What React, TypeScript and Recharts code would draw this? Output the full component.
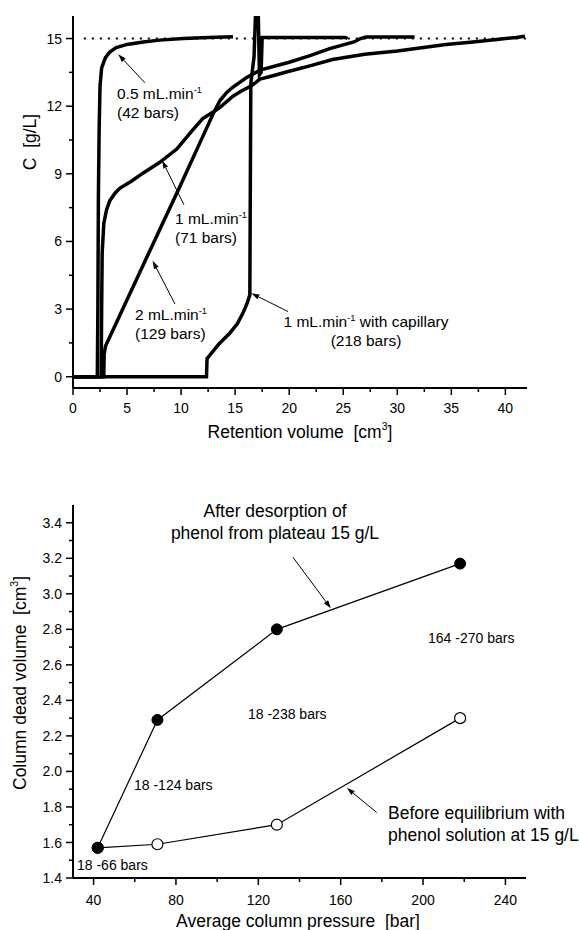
import React from "react";
import { LineChart, Line, XAxis, YAxis, ReferenceLine } from "recharts";

const FONT = '"Liberation Sans", Arial, Helvetica, sans-serif';

// ---- top panel: breakthrough curves, [retention volume, C]
const flow05 = [
  [0, 0], [2.25, 0], [2.3, 3], [2.35, 8], [2.42, 11], [2.5, 12.9], [2.65, 13.7], [3.0, 14.15],
  [3.4, 14.4], [4.0, 14.6], [5.0, 14.74], [6.5, 14.85], [8, 14.93], [10.2, 15.0], [12.5, 15.05], [14.8, 15.08],
];
const flow1 = [
  [0, 0], [2.6, 0], [2.65, 3], [2.7, 5.5], [2.85, 6.8], [3.1, 7.4], [3.4, 7.8], [3.9, 8.15], [4.35, 8.37],
  [5.4, 8.67], [6.5, 9.04], [8, 9.5], [9.6, 10.1], [11, 10.9], [12, 11.45], [13, 11.75], [13.6, 11.95],
  [14.8, 12.44], [15.5, 12.65], [16.5, 12.9], [17.3, 13.2], [18.5, 13.35], [20, 13.55], [22, 13.8],
  [24, 14.07], [27, 14.3], [30, 14.45], [34.5, 14.74], [37, 14.85], [39.2, 14.96], [41, 15.05], [41.8, 15.1],
];
const flow2 = [
  [0, 0], [2.85, 0], [2.88, 1.0], [3.0, 1.35], [6, 4.45], [9.9, 8.45], [12, 10.65], [13, 11.7],
  [13.6, 12.25], [14.2, 12.6], [14.8, 12.85], [16, 13.25], [17.3, 13.6], [20, 13.95], [22, 14.25],
  [23.75, 14.55], [25, 14.72], [26, 14.85], [26.6, 15.0], [27.1, 15.07], [31.6, 15.07],
];
const flow1Capillary = [
  [0, 0], [12.35, 0], [12.4, 0.8], [12.8, 1.04], [13.5, 1.45], [14.5, 1.93], [15.2, 2.35], [15.7, 2.8],
  [16.1, 3.25], [16.36, 3.63], [16.4, 8], [16.45, 13.0], [16.75, 14.2], [16.95, 17], [17.1, 17],
  [17.25, 13.4], [17.4, 13.5], [17.5, 15.05], [20, 15.05], [25.2, 15.05], [25.4, 15.0],
];
const plateau = [[1, 15], [42, 15]];
const cTicks = [0, 1.5, 3, 4.5, 6, 7.5, 9, 10.5, 12, 13.5, 15];
const volumeTicks = [0, 2.5, 5, 7.5, 10, 12.5, 15, 17.5, 20, 22.5, 25, 27.5, 30, 32.5, 35, 37.5, 40];
const topArrows = [
  [[6.65, 13.04], [4.19, 14.3]],
  [[10.26, 7.63], [8.25, 9.59]],
  [[9.43, 3.23], [7.37, 5.14]],
  [[19.9, 2.89], [16.5, 3.7]],
];

// ---- bottom panel: dead volume vs pressure
const pressure = [42, 71, 129, 218];
const afterDesorption = [1.57, 2.29, 2.8, 3.17];
const beforeEquilibrium = [1.57, 1.59, 1.7, 2.3];
const deadVolumeTicks = [1.4, 1.5, 1.6, 1.7, 1.8, 1.9, 2.0, 2.1, 2.2, 2.3, 2.4, 2.5, 2.6, 2.7, 2.8, 2.9, 3.0, 3.1, 3.2, 3.3, 3.4];
const pressureTicks = [40, 60, 80, 100, 120, 140, 160, 180, 200, 220, 240];
const bottomArrows = [
  [[136.8, 3.206], [155.2, 2.919]],
  [[177.5, 1.769], [163, 1.907]],
];

const toPts = (arr: number[][]) => arr.map(([x, y]) => ({ x, y }));
const onStep = (v: number, step: number) => Math.abs(v / step - Math.round(v / step)) < 1e-6;

// tick coordinates arrive at the axis line itself (tickSize 0, tickMargin 0)
const YTick = (props: any) => {
  const { x, y, payload, step, dec } = props;
  const major = onStep(payload.value, step);
  return (
    <g>
      <line x1={x} x2={x - (major ? 7 : 4)} y1={y} y2={y} stroke="#000" strokeWidth={1.5} />
      {major && (
        <text x={x - 11} y={y} dy="0.36em" textAnchor="end" fontSize={14} fontFamily={FONT} fill="#000">
          {payload.value.toFixed(dec)}
        </text>
      )}
    </g>
  );
};

const XTick = (props: any) => {
  const { x, y, payload, step, off } = props;
  const major = onStep(payload.value, step);
  return (
    <g>
      <line x1={x} x2={x} y1={y} y2={y + (major ? 7 : 4)} stroke="#000" strokeWidth={1.5} />
      {major && (
        <text x={x} y={y + off} textAnchor="middle" fontSize={14} fontFamily={FONT} fill="#000">
          {payload.value}
        </text>
      )}
    </g>
  );
};

const Arrow = (p: any) => {
  const { x1, y1, x2, y2 } = p;
  const a = Math.atan2(y2 - y1, x2 - x1);
  const L = 8;
  const W = 2.6;
  const bx = x2 - L * Math.cos(a);
  const by = y2 - L * Math.sin(a);
  const head = `${x2},${y2} ${bx - W * Math.sin(a)},${by + W * Math.cos(a)} ${bx + W * Math.sin(a)},${by - W * Math.cos(a)}`;
  return (
    <g>
      <line x1={x1} y1={y1} x2={bx} y2={by} stroke="#000" strokeWidth={1} />
      <polygon points={head} fill="#000" />
    </g>
  );
};

const Txt = ({ left, top, size, children, align, width }: any) => (
  <div
    style={{
      position: "absolute", left, top, width, fontSize: size, lineHeight: `${Math.round(size * 1.25)}px`,
      whiteSpace: "pre", textAlign: align || "left", color: "#000",
    }}
  >
    {children}
  </div>
);

const Title = ({ cx, cy, rotate, children }: any) => (
  <div
    style={{
      position: "absolute", left: cx, top: cy, fontSize: 17.5, whiteSpace: "pre", color: "#000",
      transform: `translate(-50%, -50%)${rotate ? " rotate(-90deg)" : ""}`,
    }}
  >
    {children}
  </div>
);

const sup = (s: string) => <sup style={{ fontSize: "0.6em", verticalAlign: "0.7em", lineHeight: 0 }}>{s}</sup>;

const curve = { type: "linear" as const, dataKey: "y", stroke: "#000", strokeWidth: 3.5, dot: false, activeDot: false, isAnimationActive: false };

export default function App() {
  return (
    <div style={{ position: "absolute", left: 0, top: 0, width: 579, height: 930, fontFamily: FONT, background: "#fff" }}>
      <div style={{ position: "absolute", left: 0, top: 0 }}>
        <LineChart width={579} height={450} margin={{ top: 16, right: 52, bottom: 32, left: 33 }}>
          <XAxis
            type="number" dataKey="x" domain={[0, 42]} allowDataOverflow height={30}
            ticks={volumeTicks} interval={0} tickSize={0} tickMargin={0}
            axisLine={{ stroke: "#000", strokeWidth: 2 }} tickLine={false}
            tick={(p: any) => <XTick {...p} step={5} off={25} />}
          />
          <YAxis
            type="number" domain={[-0.5, 16]} allowDataOverflow width={40}
            ticks={cTicks} interval={0} tickSize={0} tickMargin={0}
            axisLine={{ stroke: "#000", strokeWidth: 2 }} tickLine={false}
            tick={(p: any) => <YTick {...p} step={3} dec={0} />}
          />
          <Line data={toPts(plateau)} type="linear" dataKey="y" stroke="#000" strokeWidth={2} strokeDasharray="2 6" dot={false} activeDot={false} isAnimationActive={false} />
          <Line data={toPts(flow05)} {...curve} />
          <Line data={toPts(flow1)} {...curve} />
          <Line data={toPts(flow2)} {...curve} />
          <Line data={toPts(flow1Capillary)} {...curve} />
          {topArrows.map(([f, t], i) => (
            <ReferenceLine key={i} segment={[{ x: f[0], y: f[1] }, { x: t[0], y: t[1] }]} shape={Arrow} ifOverflow="visible" />
          ))}
        </LineChart>
      </div>

      <div style={{ position: "absolute", left: 0, top: 460 }}>
        <LineChart width={579} height={470} margin={{ top: 45, right: 53, bottom: 22, left: 33 }}>
          <XAxis
            type="number" dataKey="x" domain={[30, 250]} allowDataOverflow height={30}
            ticks={pressureTicks} interval={0} tickSize={0} tickMargin={0}
            axisLine={{ stroke: "#000", strokeWidth: 2 }} tickLine={false}
            tick={(p: any) => <XTick {...p} step={40} off={27} />}
          />
          <YAxis
            type="number" domain={[1.4, 3.5]} allowDataOverflow width={40}
            ticks={deadVolumeTicks} interval={0} tickSize={0} tickMargin={0}
            axisLine={{ stroke: "#000", strokeWidth: 2 }} tickLine={false}
            tick={(p: any) => <YTick {...p} step={0.2} dec={1} />}
          />
          <Line
            data={pressure.map((x, i) => ({ x, y: beforeEquilibrium[i] }))}
            type="linear" dataKey="y" stroke="#000" strokeWidth={1.2}
            dot={{ r: 5.5, fill: "#fff", stroke: "#000", strokeWidth: 1.2 }} activeDot={false} isAnimationActive={false}
          />
          <Line
            data={pressure.map((x, i) => ({ x, y: afterDesorption[i] }))}
            type="linear" dataKey="y" stroke="#000" strokeWidth={1.2}
            dot={{ r: 5.5, fill: "#000", stroke: "#000", strokeWidth: 1 }} activeDot={false} isAnimationActive={false}
          />
          {bottomArrows.map(([f, t], i) => (
            <ReferenceLine key={i} segment={[{ x: f[0], y: f[1] }, { x: t[0], y: t[1] }]} shape={Arrow} ifOverflow="visible" />
          ))}
        </LineChart>
      </div>

      {/* top panel text */}
      <Title cx={30} cy={142} rotate>C  [g/L]</Title>
      <Title cx={300} cy={432}>Retention volume  [cm{sup("3")}]</Title>
      <Txt left={117} top={84} size={15.5}>0.5 mL.min{sup("-1")}{"\n"}(42 bars)</Txt>
      <Txt left={175} top={209} size={15.5}>1 mL.min{sup("-1")}{"\n"}(71 bars)</Txt>
      <Txt left={135} top={305} size={15.5}>2 mL.min{sup("-1")}{"\n"}(129 bars)</Txt>
      <Txt left={278} top={312} size={15.5} width={176} align="center">1 mL.min{sup("-1")} with capillary{"\n"}(218 bars)</Txt>

      {/* bottom panel text */}
      <Title cx={20} cy={683} rotate>Column dead volume  [cm{sup("3")}]</Title>
      <Title cx={298} cy={921}>Average column pressure  [bar]</Title>
      <Txt left={150} top={500} size={17.5} width={250} align="center">After desorption of{"\n"}phenol from plateau 15 g/L</Txt>
      <Txt left={388} top={802} size={17.5}>Before equilibrium with{"\n"}phenol solution at 15 g/L</Txt>
      <Txt left={428} top={629} size={14}>164 -270 bars</Txt>
      <Txt left={248} top={705} size={14}>18 -238 bars</Txt>
      <Txt left={134} top={776} size={14}>18 -124 bars</Txt>
      <Txt left={77} top={856} size={14}>18 -66 bars</Txt>
    </div>
  );
}
